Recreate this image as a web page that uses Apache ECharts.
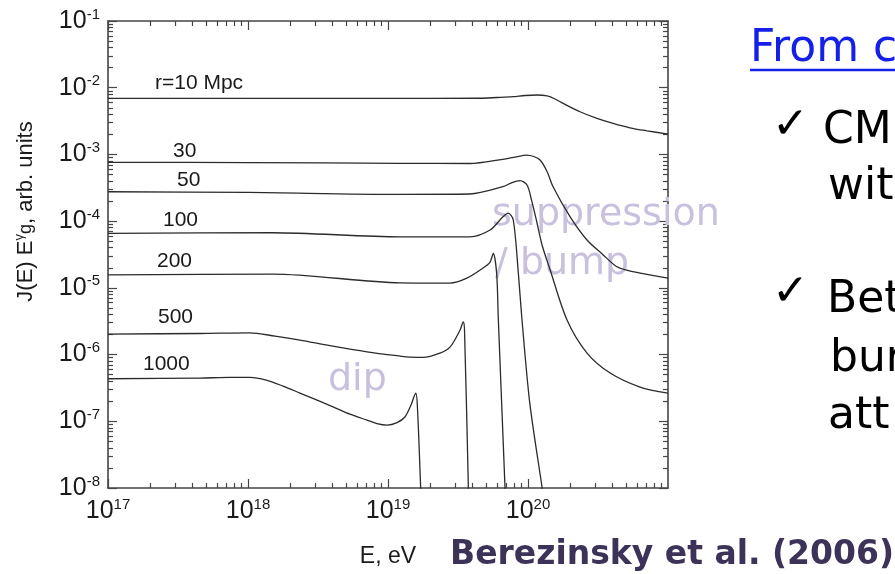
<!DOCTYPE html>
<html>
<head>
<meta charset="utf-8">
<script src="https://cdn.jsdelivr.net/npm/echarts@6/dist/echarts.min.js"></script>
<style>
html, body { margin: 0; padding: 0; background: #fff; }
#echart { width: 895px; height: 574px; }
</style>
</head>
<body>
<div id="echart"></div>
<script>
// [E (eV), J(E) E^γg (arb. units)]
const r10 = [[1e17, 6.93e-3], [1e18, 6.93e-3], [1e19, 6.93e-3], [4.5e19, 6.95e-3], [6.0e19, 7.13e-3],
  [7.8e19, 7.33e-3], [9.52e19, 7.64e-3], [1.16e20, 7.78e-3], [1.37e20, 7.52e-3], [1.56e20, 6.78e-3],
  [1.78e20, 5.83e-3], [2.35e20, 4.36e-3], [3.11e20, 3.47e-3], [4.05e20, 2.92e-3], [5.35e20, 2.51e-3],
  [7.08e20, 2.26e-3], [1e21, 2.02e-3]];
const r30 = [[1e17, 7.62e-4], [1e18, 7.55e-4], [1.22e19, 7.36e-4], [3.85e19, 7.31e-4], [6.6e19, 8.45e-4],
  [8.1e19, 9.14e-4], [9.8e19, 9.79e-4], [1.1e20, 9.31e-4], [1.22e20, 8.24e-4], [1.37e20, 5.51e-4],
  [1.51e20, 3.28e-4], [2.0e20, 1.16e-4], [2.64e20, 5.21e-5], [3.4e20, 3.2e-5], [4.32e20, 2.07e-5],
  [5.62e20, 1.75e-5], [1e21, 1.4e-5]];
const r50 = [[1e17, 2.76e-4], [1e18, 2.69e-4], [1.22e19, 2.52e-4], [3.85e19, 2.55e-4], [6.6e19, 3.28e-4],
  [7.69e19, 3.79e-4], [8.77e19, 4.04e-4], [9.84e19, 3.48e-4], [1.06e20, 2.07e-4], [1.16e20, 9.38e-5],
  [1.26e20, 4.39e-5], [1.44e20, 1.85e-5], [1.9e20, 3.29e-6], [2.64e20, 1.05e-6], [3.86e20, 5.28e-7],
  [6.31e20, 3.26e-7], [1e21, 2.65e-7]];
const r100 = [[1e17, 6.56e-5], [1.5e18, 6.7e-5], [1.22e19, 5.83e-5], [3.85e19, 5.83e-5], [5.36e19, 7.36e-5],
  [6.62e19, 1.16e-4], [7.22e19, 1.32e-4], [7.85e19, 1.04e-4], [8.53e19, 1.67e-5], [9.02e19, 3.69e-6],
  [1.03e20, 1.87e-7], [1.26e20, 1.03e-8], [1.35e20, 3.9e-9]];
const r200 = [[1e17, 1.56e-5], [1.5e18, 1.61e-5], [1.22e19, 1.19e-5], [2.77e19, 1.18e-5], [3.66e19, 1.4e-5],
  [4.77e19, 1.98e-5], [5.36e19, 2.44e-5], [5.65e19, 3.29e-5], [5.97e19, 1.65e-5], [6.13e19, 3.69e-6],
  [6.47e19, 2.08e-7], [6.85e19, 1.03e-8], [6.97e19, 3.9e-9]];
const r500 = [[1e17, 2.03e-6], [4.54e17, 2.07e-6], [1.03e18, 2.12e-6], [1.56e18, 1.89e-6], [2.35e18, 1.65e-6],
  [3.85e18, 1.36e-6], [7.08e18, 1.1e-6], [1.22e19, 9.5e-7], [1.44e19, 9.18e-7], [1.78e19, 9.08e-7],
  [2.35e19, 1.05e-6], [2.77e19, 1.29e-6], [3.27e19, 2.33e-6], [3.45e19, 3.1e-6], [3.52e19, 2.33e-6],
  [3.75e19, 1.03e-8], [3.79e19, 3.9e-9]];
const r1000 = [[1e17, 4.34e-7], [4.54e17, 4.45e-7], [7.44e17, 4.55e-7], [1.03e18, 4.55e-7], [1.35e18, 4.15e-7],
  [1.78e18, 3.37e-7], [2.35e18, 2.65e-7], [4.05e18, 1.65e-7], [5.35e18, 1.28e-7], [7.08e18, 1.04e-7],
  [8.34e18, 9.24e-8], [9.84e18, 8.77e-8], [1.16e19, 9.57e-8], [1.32e19, 1.16e-7], [1.46e19, 1.75e-7],
  [1.53e19, 2.31e-7], [1.58e19, 2.65e-7], [1.62e19, 1.75e-7], [1.71e19, 1.03e-8], [1.73e19, 3.9e-9]];

const curves = [r10, r30, r50, r100, r200, r500, r1000];
const curveNames = ['r=10 Mpc', '30', '50', '100', '200', '500', '1000'];
const xTickExps = [17, 18, 19, 20, 21];
const yTickExps = [-8, -7, -6, -5, -4, -3, -2, -1];

// where the distance labels sit (left edge, middle)
const namePos = [[155, 83], [173, 151], [177, 180], [163, 220], [157, 261], [158, 317], [143, 364]];

const sans = 'Liberation Sans, Arial, sans-serif';
const slide = 'DejaVu Sans, sans-serif';
const frame = '#454545';
const lilac = '#c9c0de';

const majors = exps => exps.map(e => Number('1e' + e));
const minors = exps => {
  const out = [];
  for (let i = 0; i < exps.length - 1; i++) {
    for (let k = 2; k <= 9; k++) out.push(Number(k + 'e' + exps[i]));
  }
  return out;
};

const powLabel = {
  formatter: v => '{b|10}{s|' + Math.round(Math.log10(v)) + '}',
  rich: {
    b: { fontSize: 25, fontFamily: sans, color: '#1a1a1a', lineHeight: 28 },
    s: { fontSize: 15, fontFamily: sans, color: '#1a1a1a', verticalAlign: 'top', lineHeight: 15 }
  }
};

function logAxis(kind, pos, exps, minor, withLabel) {
  const ticks = minor ? minors(exps) : majors(exps);
  return {
    type: 'log',
    logBase: 10,
    position: pos,
    min: Number('1e' + exps[0]),
    max: Number('1e' + exps[exps.length - 1]),
    axisLine: { show: !minor, onZero: false, lineStyle: { color: frame, width: 1.6 } },
    axisTick: { show: true, inside: true, length: minor ? 5 : 9, customValues: ticks, lineStyle: { color: frame, width: 1.2 } },
    minorTick: { show: false },
    splitLine: { show: false },
    axisLabel: withLabel
      ? Object.assign({ customValues: majors(exps), margin: kind === 'x' ? 9 : 8 }, powLabel)
      : { show: false },
    silent: true
  };
}

const xAxis = [
  logAxis('x', 'bottom', xTickExps, false, true),
  logAxis('x', 'bottom', xTickExps, true, false),
  logAxis('x', 'top', xTickExps, false, false),
  logAxis('x', 'top', xTickExps, true, false)
];
xAxis[0].name = 'E, eV';
xAxis[0].nameLocation = 'middle';
xAxis[0].nameGap = 57;
xAxis[0].nameTextStyle = { fontSize: 23, fontFamily: sans, color: '#1a1a1a' };

const yAxis = [
  logAxis('y', 'left', yTickExps, false, true),
  logAxis('y', 'left', yTickExps, true, false),
  logAxis('y', 'right', yTickExps, false, false),
  logAxis('y', 'right', yTickExps, true, false)
];
yAxis[0].name = '{n|J(E) E}{u|γ}{g|g}{n|, arb. units}';
yAxis[0].nameLocation = 'middle';
yAxis[0].nameGap = 69;
yAxis[0].nameTextStyle = {
  padding: [0, 0, 0, 86],
  rich: {
    n: { fontSize: 22, fontFamily: sans, color: '#1a1a1a', lineHeight: 26 },
    u: { fontSize: 13, fontFamily: sans, color: '#1a1a1a', verticalAlign: 'top', lineHeight: 13 },
    g: { fontSize: 18, fontFamily: sans, color: '#1a1a1a', lineHeight: 24 }
  }
};

const txt = (text, x, y, size, color, extra) => ({
  type: 'text', x, y, z: 1, silent: true,
  style: Object.assign({ text, fontSize: size, fontFamily: slide, fill: color, align: 'left', verticalAlign: 'middle' }, extra || {})
});

const graphic = [
  txt('suppression', 492, 215, 38, lilac),
  txt('/ bump', 495, 264, 38, lilac),
  txt('dip', 328, 380, 38, lilac),
  txt('From c', 750, 50, 44, '#1420e8'),
  { type: 'line', z: 1, silent: true, shape: { x1: 750, y1: 70, x2: 895, y2: 70 }, style: { stroke: '#1420e8', lineWidth: 2.5 } },
  txt('✓', 772, 127, 44, '#000', { fontWeight: 'bold' }),
  txt('CM', 823, 132, 44, '#000'),
  txt('wit', 828, 188, 44, '#000'),
  txt('✓', 772, 294, 44, '#000', { fontWeight: 'bold' }),
  txt('Bet', 827, 301, 44, '#000'),
  txt('bur', 830, 360, 44, '#000'),
  txt('att', 828, 417, 44, '#000'),
  txt('Berezinsky et al. (2006)', 450, 555, 33, '#3d3358', { fontWeight: 'bold' })
].concat(curveNames.map((n, i) => ({
  type: 'text', x: namePos[i][0], y: namePos[i][1], z: 5, silent: true,
  style: { text: n, fontSize: 21, fontFamily: sans, fill: '#1a1a1a', align: 'left', verticalAlign: 'middle' }
})));

const options = {
  animation: false,
  backgroundColor: '#fff',
  grid: { left: 108, right: 227, top: 21, bottom: 86, containLabel: false },
  xAxis,
  yAxis,
  graphic,
  series: curves.map((d, i) => ({
    name: curveNames[i],
    type: 'line',
    xAxisIndex: 0,
    yAxisIndex: 0,
    data: d,
    showSymbol: false,
    smooth: 0.3,
    clip: true,
    z: 3,
    lineStyle: { color: '#2b2b2b', width: 1.3 }
  }))
};

const chart = echarts.init(document.getElementById('echart'));
chart.setOption(options);
</script>
</body>
</html>
